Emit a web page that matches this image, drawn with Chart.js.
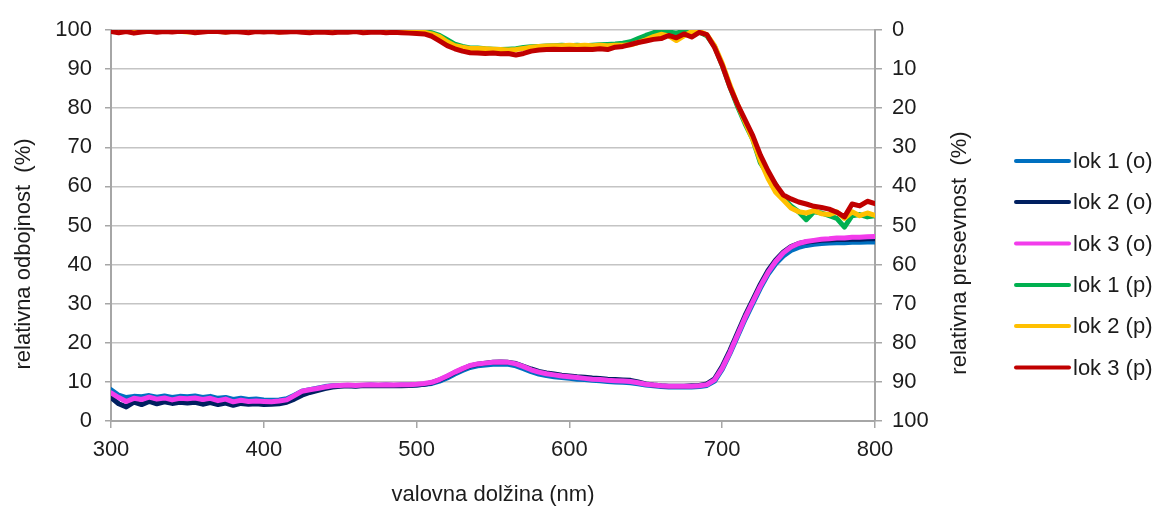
<!DOCTYPE html>
<html>
<head>
<meta charset="utf-8">
<script src="https://cdn.jsdelivr.net/npm/chart.js@4/dist/chart.umd.min.js"></script>
<style>
html,body{margin:0;padding:0;background:#fff;}
#wrap{width:1158px;height:506px;}
</style>
</head>
<body>
<div id="wrap"><canvas id="c" width="1158" height="506"></canvas></div>
<script>
const wavelengths = [
300,305,310,315,320,325,330,335,340,345,
350,355,360,365,370,375,380,385,390,395,
400,405,410,415,420,425,430,435,440,445,
450,455,460,465,470,475,480,485,490,495,
500,505,510,515,520,525,530,535,540,545,
550,555,560,565,570,575,580,585,590,595,
600,605,610,615,620,625,630,635,640,645,
650,655,660,665,670,675,680,685,690,695,
700,705,710,715,720,725,730,735,740,745,
750,755,760,765,770,775,780,785,790,795,
800];

const seriesNames = ['lok 1 (o)','lok 2 (o)','lok 3 (o)','lok 1 (p)','lok 2 (p)','lok 3 (p)'];

const lok1o = [
8.0,6.6,6.0,6.3,6.2,6.5,6.1,6.4,6.0,6.3,
6.2,6.4,6.0,6.3,5.8,6.0,5.5,5.8,5.5,5.6,
5.4,5.3,5.4,5.7,6.6,7.6,8.0,8.4,8.8,9.0,
9.1,9.1,9.0,9.1,9.2,9.1,9.2,9.1,9.2,9.2,
9.2,9.4,9.6,10.2,11.0,12.0,12.9,13.7,14.1,14.3,
14.5,14.6,14.5,14.1,13.4,12.6,12.0,11.6,11.3,11.1,
10.9,10.7,10.6,10.4,10.3,10.1,10.0,9.9,9.8,9.5,
9.2,9.0,8.8,8.7,8.7,8.7,8.7,8.8,9.1,10.2,
13.2,17.2,21.6,26.0,30.0,34.0,37.5,40.2,42.2,43.6,
44.4,44.9,45.2,45.4,45.5,45.6,45.6,45.7,45.7,45.8,
45.8];

const lok2o = [
6.0,4.4,3.6,4.8,4.2,5.0,4.4,4.9,4.5,4.8,
4.6,4.8,4.3,4.7,4.2,4.6,4.0,4.5,4.3,4.4,
4.2,4.3,4.4,4.8,5.6,6.6,7.3,7.8,8.3,8.7,
8.9,9.0,8.9,9.1,9.0,9.1,9.0,9.1,9.0,9.1,
9.2,9.4,9.8,10.5,11.4,12.4,13.3,14.1,14.5,14.8,
15.0,15.1,15.0,14.7,14.0,13.3,12.7,12.3,12.0,11.7,
11.5,11.3,11.2,11.0,10.9,10.7,10.6,10.5,10.4,10.0,
9.5,9.2,9.0,8.9,8.9,8.9,9.0,9.1,9.5,10.8,
14.0,18.0,22.5,27.0,31.0,35.0,38.5,41.2,43.2,44.6,
45.4,45.8,46.0,46.2,46.3,46.4,46.4,46.5,46.5,46.6,
46.6];

const lok3o = [
7.2,6.0,5.0,5.8,5.5,6.1,5.6,5.9,5.4,5.8,
5.7,5.9,5.5,5.8,5.2,5.6,4.9,5.3,5.0,5.1,
5.0,4.9,5.1,5.4,6.5,7.6,8.0,8.3,8.7,9.0,
9.1,9.2,9.1,9.2,9.3,9.2,9.3,9.2,9.3,9.3,
9.4,9.6,9.9,10.6,11.5,12.5,13.4,14.2,14.6,14.8,
15.0,15.1,15.0,14.6,13.9,13.1,12.5,12.1,11.8,11.5,
11.3,11.1,10.9,10.7,10.6,10.4,10.3,10.2,10.1,9.8,
9.4,9.2,9.0,8.9,8.9,8.9,8.9,9.0,9.3,10.5,
13.5,17.5,22.0,26.5,30.5,34.5,38.0,40.8,43.0,44.5,
45.4,45.9,46.2,46.5,46.6,46.8,46.8,47.0,47.0,47.1,
47.2];

const lok1p = [
0.2,0.3,0.1,0.3,0.2,0.1,0.3,0.2,0.2,0.1,
0.2,0.3,0.2,0.1,0.2,0.3,0.2,0.1,0.2,0.3,
0.2,0.1,0.2,0.3,0.2,0.1,0.2,0.3,0.2,0.2,
0.1,0.2,0.3,0.2,0.1,0.2,0.2,0.3,0.2,0.2,
0.3,0.5,0.7,1.4,2.5,3.6,4.2,4.6,4.6,4.8,
4.9,5.0,4.9,4.8,4.5,4.3,4.2,4.1,4.0,3.9,
4.0,3.9,4.0,3.9,3.8,3.7,3.6,3.4,3.0,2.2,
1.4,0.7,0.1,0.5,0.8,0.3,0.2,0.5,1.5,4.2,
9.0,14.5,19.5,24.0,28.0,34.0,37.0,39.5,43.0,45.0,
46.5,48.5,46.5,46.8,47.5,48.2,50.4,47.5,47.2,47.8,
47.5];

const lok2p = [
0.3,0.4,0.2,0.5,0.3,0.4,0.2,0.3,0.4,0.3,
0.5,0.3,0.4,0.2,0.3,0.5,0.3,0.4,0.3,0.2,
0.4,0.3,0.5,0.3,0.4,0.3,0.2,0.4,0.3,0.5,
0.3,0.4,0.3,0.2,0.4,0.3,0.4,0.3,0.4,0.4,
0.5,0.6,1.0,1.7,3.0,4.0,4.4,4.7,4.7,4.8,
4.9,5.0,5.1,5.0,4.7,4.4,4.2,4.1,4.0,4.0,
3.9,4.0,3.9,4.0,3.9,4.0,3.9,3.9,3.8,3.2,
2.5,1.7,1.1,1.5,2.7,1.5,0.4,0.3,1.2,4.0,
8.5,14.0,19.0,23.5,28.0,33.5,38.0,41.5,43.5,45.5,
46.5,46.8,46.2,47.0,47.2,46.5,48.2,46.5,47.5,46.8,
47.4];

const lok3p = [
0.4,0.7,0.4,0.8,0.5,0.3,0.6,0.4,0.5,0.3,
0.4,0.7,0.5,0.3,0.4,0.6,0.4,0.5,0.7,0.4,
0.5,0.4,0.6,0.5,0.4,0.6,0.7,0.5,0.6,0.7,
0.5,0.6,0.4,0.7,0.6,0.5,0.7,0.6,0.7,0.8,
0.9,1.0,1.6,2.8,4.0,4.8,5.4,5.8,5.9,6.0,
5.9,6.1,6.0,6.4,6.0,5.4,5.1,5.0,4.9,5.0,
4.9,5.0,4.9,5.0,4.8,5.0,4.4,4.2,3.7,3.2,
2.8,2.4,2.2,1.4,2.0,1.0,1.8,0.6,1.2,4.5,
9.0,14.5,19.0,23.0,27.0,32.0,36.0,39.5,42.2,43.2,
44.0,44.5,45.1,45.4,45.8,46.6,47.8,44.5,45.0,43.8,
44.4];

const xTicks = [300,400,500,600,700,800];
const leftTicks = [0,10,20,30,40,50,60,70,80,90,100];
const rightTicks = [0,10,20,30,40,50,60,70,80,90,100];

const titleX = 'valovna dolžina (nm)';
const titleLeft = 'relativna odbojnost  (%)';
const titleRight = 'relativna presevnost  (%)';

const FONT = '"Liberation Sans", Arial, sans-serif';
const TXT = '#1c1c1c';
const colors = ['#0070C0','#002060','#F23CEB','#00B050','#FFC000','#C00000'];
const valueSets = [lok1o, lok2o, lok3o, lok1p, lok2p, lok3p];
const axisFor = ['y','y','y','y2','y2','y2'];
const drawOrder = [5,4,3,2,1,0];

const datasets = valueSets.map((vals, i) => ({
  label: seriesNames[i],
  data: wavelengths.map((w, k) => ({x: w, y: vals[k]})),
  borderColor: colors[i],
  backgroundColor: colors[i],
  borderWidth: 5,
  pointRadius: 0,
  tension: 0,
  borderJoinStyle: 'round',
  borderCapStyle: 'round',
  yAxisID: axisFor[i],
  order: drawOrder[i]
}));

const extras = {
  id: 'extras',
  afterDraw(chart) {
    const ctx = chart.ctx;
    ctx.save();
    ctx.fillStyle = TXT;
    ctx.font = '22px ' + FONT;
    ctx.textAlign = 'center';
    ctx.textBaseline = 'middle';
    ctx.save();
    ctx.translate(24, 254);
    ctx.rotate(-Math.PI / 2);
    ctx.fillText(titleLeft, 0, 0);
    ctx.restore();
    ctx.save();
    ctx.translate(960, 253);
    ctx.rotate(-Math.PI / 2);
    ctx.fillText(titleRight, 0, 0);
    ctx.restore();
    const ys = [161, 202, 243.5, 285, 326, 367.5];
    ctx.textAlign = 'left';
    seriesNames.forEach((name, i) => {
      ctx.strokeStyle = colors[i];
      ctx.lineWidth = 4;
      ctx.lineCap = 'round';
      ctx.beginPath();
      ctx.moveTo(1016, ys[i]);
      ctx.lineTo(1069, ys[i]);
      ctx.stroke();
      ctx.fillStyle = TXT;
      ctx.fillText(name, 1073, ys[i] + 1);
    });
    ctx.restore();
  }
};

new Chart(document.getElementById('c'), {
  type: 'line',
  data: { datasets },
  options: {
    responsive: false,
    animation: false,
    events: [],
    layout: { padding: { top: 30, left: 0, right: 183, bottom: 0 } },
    plugins: { legend: { display: false }, tooltip: { enabled: false } },
    scales: {
      x: {
        type: 'linear', min: 300, max: 800,
        afterBuildTicks: s => { s.ticks = xTicks.map(v => ({value: v})); },
        afterFit: s => { s.height = 85; },
        ticks: { color: TXT, font: { family: FONT, size: 22 }, padding: 9, maxRotation: 0 },
        grid: { drawOnChartArea: false, drawTicks: true, tickLength: 7, color: '#a6a6a6', lineWidth: 1.5 },
        border: { color: '#a6a6a6', width: 2 },
        title: { display: true, text: titleX, color: TXT, font: { family: FONT, size: 22, lineHeight: 1 }, padding: { top: 0, bottom: 0 } }
      },
      y: {
        position: 'left', min: 0, max: 100,
        afterBuildTicks: s => { s.ticks = leftTicks.map(v => ({value: v})); },
        afterFit: s => { s.width = 111; },
        ticks: { color: TXT, font: { family: FONT, size: 22 }, padding: 13 },
        grid: { color: '#c4c4c4', lineWidth: 1.5, tickLength: 6, tickColor: '#a6a6a6' },
        border: { color: '#a6a6a6', width: 2 }
      },
      y2: {
        position: 'right', min: 0, max: 100, reverse: true,
        afterBuildTicks: s => { s.ticks = rightTicks.map(v => ({value: v})); },
        afterFit: s => { s.width = 100; },
        ticks: { color: TXT, font: { family: FONT, size: 22 }, padding: 10 },
        grid: { drawOnChartArea: false, tickLength: 7, color: '#a6a6a6', lineWidth: 1.5 },
        border: { color: '#a6a6a6', width: 2 }
      }
    }
  },
  plugins: [extras]
});
</script>
</body>
</html>
